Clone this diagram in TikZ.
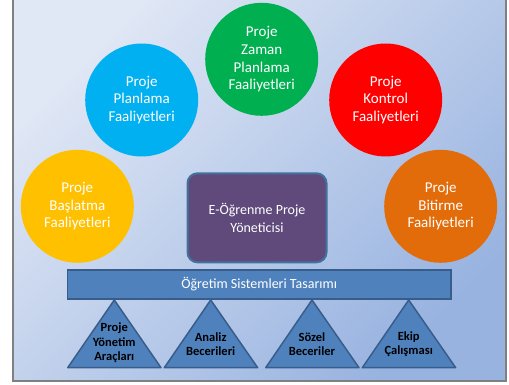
\documentclass[tikz,border=0pt]{standalone}
\usepackage{fontspec}
\setmainfont{Carlito}
\definecolor{bgA}{HTML}{E0E7F5}
\definecolor{bgB}{HTML}{98B3E0}
\definecolor{cgreen}{HTML}{00B050}
\definecolor{cblue}{HTML}{00B0F0}
\definecolor{cred}{HTML}{FF0000}
\definecolor{cyellow}{HTML}{FFC000}
\definecolor{corange}{HTML}{E36C0A}
\definecolor{cpurple}{HTML}{604A7B}
\definecolor{cedge}{HTML}{41719C}
\definecolor{cbar}{HTML}{4F81BD}
\definecolor{cbaredge}{HTML}{385D8A}
\tikzset{
  circ/.style={circle, minimum size=113pt, inner sep=0pt, text=white, align=center, font=\fontsize{15}{17.7}\selectfont},
  tri/.style={fill=cbar, draw=cbaredge, line width=1.5pt, line join=round},
  trilabel/.style={align=center, font=\fontsize{12.5}{14.2}\selectfont\bfseries, text=black, inner sep=0pt}
}
\begin{document}
\begin{tikzpicture}[x=1pt,y=-1pt]
\useasboundingbox (0,0) rectangle (509,385);
\path[top color=bgA, bottom color=bgB, shading angle=45] (13,0) rectangle (506,381);
\draw[draw=gray, line width=2pt] (13,-2) rectangle (506,381);
\node[circ, fill=cgreen] (green) at (261.7,59.3) {Proje\\Zaman\\Planlama\\Faaliyetleri};
\node[circ, fill=cblue] (blue) at (141.7,100) {Proje\\Planlama\\Faaliyetleri};
\node[circ, fill=cred] (red) at (385.7,100) {Proje\\Kontrol\\Faaliyetleri};
\node[circ, fill=cyellow] (yellow) at (77.3,206.3) {Proje\\Başlatma\\Faaliyetleri};
\node[circ, fill=corange] (orange) at (440.7,206.3) {Proje\\Bitirme\\Faaliyetleri};
\node[draw=cedge, line width=2pt, fill=cpurple, rounded corners=10pt, minimum width=139pt, minimum height=89pt, text=white, align=center, font=\fontsize{14}{18}\selectfont] (mgr) at (257,217.8) {E-Öğrenme Proje\\Yöneticisi};
\node[draw=cbaredge, line width=1.5pt, fill=cbar, minimum width=383.7pt, minimum height=29pt, inner sep=0pt, text=white, font=\fontsize{14}{16}\selectfont] (bar) at (259.2,284.5) {Öğretim Sistemleri Tasarımı};
\coordinate (t1a) at (114.3,300); \coordinate (t1b) at (161,367.7); \coordinate (t1c) at (67.7,367.7);
\coordinate (t2a) at (210.7,300); \coordinate (t2b) at (257.7,367.7); \coordinate (t2c) at (164.3,367.7);
\coordinate (t3a) at (312,300); \coordinate (t3b) at (359,367.7); \coordinate (t3c) at (265.7,367.7);
\coordinate (t4a) at (408.7,300); \coordinate (t4b) at (455.7,367.7); \coordinate (t4c) at (362.3,367.7);
\draw[tri] (t1a) -- (t1b) -- (t1c) -- cycle;
\draw[tri] (t2a) -- (t2b) -- (t2c) -- cycle;
\draw[tri] (t3a) -- (t3b) -- (t3c) -- cycle;
\draw[tri] (t4a) -- (t4b) -- (t4c) -- cycle;
\node[trilabel] (l1) at (114.3,342.8) {Proje\\Yönetim\\Araçları};
\node[trilabel] (l2) at (210.7,344.2) {Analiz\\Becerileri};
\node[trilabel] (l3) at (312,344.2) {Sözel\\Beceriler};
\node[trilabel] (l4) at (408.7,344.2) {Ekip\\Çalışması};
\end{tikzpicture}
\end{document}
